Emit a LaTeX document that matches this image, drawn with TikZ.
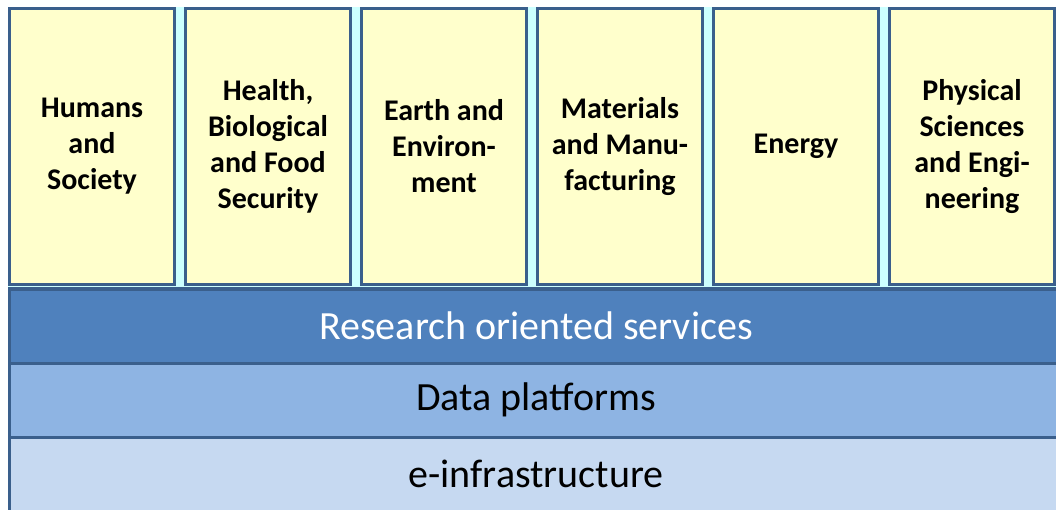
\documentclass[tikz,border=0pt]{standalone}
\usepackage{fontspec}
\setmainfont{Carlito}
\usepackage{xcolor}

\definecolor{edge}{HTML}{3A5F8C}
\definecolor{colfill}{HTML}{FFFFCC}
\definecolor{gapfill}{HTML}{CCFFFF}
\definecolor{rsvfill}{HTML}{4F81BD}
\definecolor{datafill}{HTML}{8EB4E3}
\definecolor{infrafill}{HTML}{C6D9F1}

\tikzset{
  theme/.style={draw=edge, line width=3pt, fill=colfill, minimum width=165pt,
    minimum height=276pt, align=center, inner sep=0pt,
    font=\fontsize{30}{36}\selectfont\bfseries},
  layer/.style={draw=edge, line width=3pt, minimum width=1054pt,
    minimum height=74pt, inner sep=0pt, font=\fontsize{40}{44}\selectfont}
}

\begin{document}
\begin{tikzpicture}[x=1pt, y=-1pt]
\useasboundingbox (0,0) rectangle (1056,510);
\fill[gapfill] (8,7) rectangle (1056,288);
% the six themes
\foreach \i/\txt in {1/{Humans\\and\\Society},
                      2/{Health,\\Biological\\and Food\\Security},
                      3/{Earth and\\Environ-\\ment},
                      4/{Materials\\and Manu-\\facturing},
                      5/{Energy},
                      6/{Physical\\Sciences\\and Engi-\\neering}} {
 \node[theme] (col\i) at ({92+176*(\i-1)},146.5) {\txt};
}
% the three layers
\node[layer, fill=rsvfill, text=white] (rsv) at (536,326) {Research oriented services};
\node[layer, fill=datafill] (data) at (536,400) {Data platforms};
\node[layer, fill=infrafill] (einfra) at (536,474) {e-infrastructure};
\end{tikzpicture}
\end{document}
